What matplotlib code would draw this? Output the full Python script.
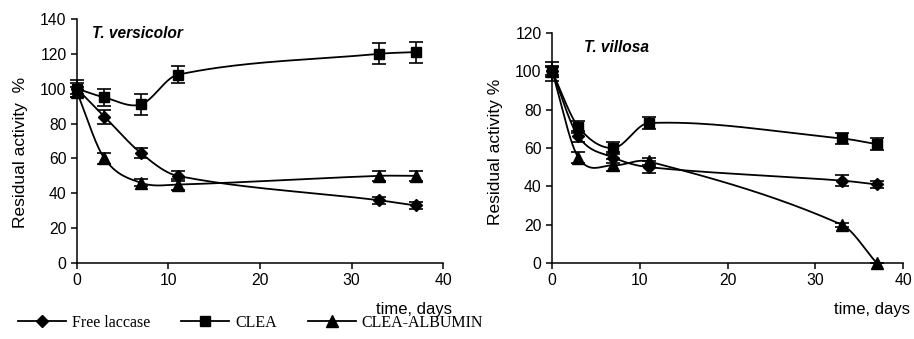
import numpy as np
import matplotlib
matplotlib.use('Agg')
import matplotlib.pyplot as plt
from matplotlib.lines import Line2D

# sampling days
days = [0, 3, 7, 11, 33, 37]

# T. versicolor
vers_free = [100, 84, 63, 50, 36, 33]
vers_free_err = [3, 4, 3, 3, 2, 2]
vers_clea = [100, 95, 91, 108, 120, 121]
vers_clea_err = [5, 5, 6, 5, 6, 6]
vers_alb = [98, 60, 46, 45, 50, 50]
vers_alb_err = [3, 3, 2, 3, 3, 3]

# T. villosa
vill_free = [100, 66, 55, 50, 43, 41]
vill_free_err = [3, 3, 3, 3, 3, 2]
vill_clea = [100, 71, 60, 73, 65, 62]
vill_clea_err = [5, 3, 3, 3, 3, 3]
vill_alb = [100, 55, 51, 53, 20, 0]
vill_alb_err = [2, 3, 3, 2, 1, 0]

SERIES_NAMES = ['Free laccase', 'CLEA', 'CLEA-ALBUMIN']
MARKERS = ['D', 's', '^']
MSIZES = [6, 7, 8]

SANS = 'Liberation Sans'


def smooth(x, y, n=40):
    """Cubic Hermite curve through the points (smoothed-line look)."""
    x = np.asarray(x, float)
    y = np.asarray(y, float)
    m = np.empty_like(y)
    m[1:-1] = (y[2:] - y[:-2]) / (x[2:] - x[:-2])
    m[0] = (y[1] - y[0]) / (x[1] - x[0])
    m[-1] = (y[-1] - y[-2]) / (x[-1] - x[-2])
    xs, ys = [], []
    t = np.linspace(0, 1, n)
    h00 = 2 * t ** 3 - 3 * t ** 2 + 1
    h10 = t ** 3 - 2 * t ** 2 + t
    h01 = -2 * t ** 3 + 3 * t ** 2
    h11 = t ** 3 - t ** 2
    for i in range(len(x) - 1):
        h = x[i + 1] - x[i]
        xs.extend(x[i] + t * h)
        ys.extend(h00 * y[i] + h10 * h * m[i] + h01 * y[i + 1] + h11 * h * m[i + 1])
    return np.array(xs), np.array(ys)


def draw_panel(ax, series, errs, ymax, title, title_x):
    for vals, err, mk, ms in zip(series, errs, MARKERS, MSIZES):
        sx, sy = smooth(days, vals)
        ax.plot(sx, sy, color='black', lw=1.3, clip_on=False, zorder=2)
        ax.errorbar(days, vals, yerr=err, fmt=mk, color='black', ms=ms,
                    capsize=5, elinewidth=1.2, capthick=1.2, clip_on=False, zorder=3)
    ax.set_xlim(0, 40)
    ax.set_ylim(0, ymax)
    ax.set_xticks(range(0, 41, 10))
    ax.set_yticks(range(0, ymax + 1, 20))
    for s in ('top', 'right'):
        ax.spines[s].set_visible(False)
    for s in ('left', 'bottom'):
        ax.spines[s].set_linewidth(1.1)
    ax.tick_params(direction='out', length=4, width=1.1, labelsize=11.3)
    for lab in ax.get_xticklabels() + ax.get_yticklabels():
        lab.set_family(SANS)
    ax.text(title_x, 0.97, title, transform=ax.transAxes, fontsize=11.2,
            fontweight='bold', style='italic', family=SANS, va='top')


fig = plt.figure(figsize=(9.14, 3.39), dpi=100)
ax1 = fig.add_axes([0.0842, 0.2242, 0.4005, 0.7198])
ax2 = fig.add_axes([0.604, 0.2242, 0.384, 0.6785])

draw_panel(ax1, [vers_free, vers_clea, vers_alb],
           [vers_free_err, vers_clea_err, vers_alb_err], 140, 'T. versicolor', 0.04)
draw_panel(ax2, [vill_free, vill_clea, vill_alb],
           [vill_free_err, vill_clea_err, vill_alb_err], 120, 'T. villosa', 0.09)

ax1.set_ylabel('Residual activity  %', fontsize=12.5, family=SANS, labelpad=7)
ax1.yaxis.set_label_coords(-0.135, 0.455)
ax2.set_ylabel('Residual activity %', fontsize=12.5, family=SANS, labelpad=7)
ax2.yaxis.set_label_coords(-0.14, 0.485)

fig.text(0.494, 0.088, 'time, days', fontsize=12, family=SANS, ha='right', va='center')
fig.text(0.996, 0.088, 'time, days', fontsize=12, family=SANS, ha='right', va='center')

handles = [Line2D([], [], color='black', lw=1.3, marker=mk, ms=ms)
           for mk, ms in zip(MARKERS, MSIZES)]
fig.legend(handles, SERIES_NAMES, loc='center left', bbox_to_anchor=(0.008, 0.047),
           ncol=3, frameon=False, handlelength=3.0, columnspacing=1.95,
           handletextpad=0.35, borderpad=0.2,
           prop={'family': 'Liberation Serif', 'size': 11.5})

fig.savefig('out.png', dpi=100)
